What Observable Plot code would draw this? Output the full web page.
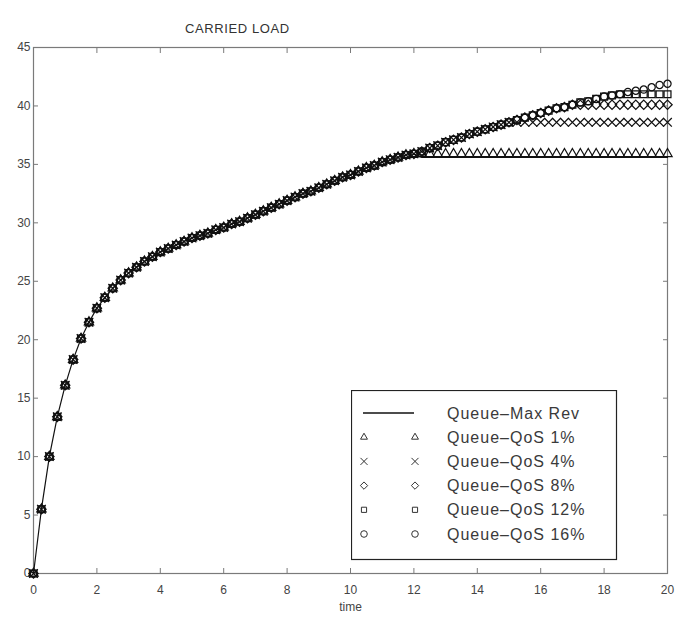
<!DOCTYPE html>
<html><head><meta charset="utf-8">
<script src="https://cdn.jsdelivr.net/npm/d3@7"></script>
<script src="https://cdn.jsdelivr.net/npm/@observablehq/plot@0.6"></script>
<style>
body{margin:0;background:#fff;font-family:"Liberation Sans",Arial,sans-serif;}
#wrap{position:relative;width:693px;height:633px;}
#title{position:absolute;left:185px;top:22px;font-size:13px;line-height:13px;letter-spacing:0.6px;color:#333;}
#legend{position:absolute;left:351px;top:390px;}
</style></head><body><div id="wrap"><div id="title">CARRIED LOAD</div><div id="legend"></div></div>
<script>
const time = [0,0.25,0.5,0.75,1,1.25,1.5,1.75,2,2.25,2.5,2.75,3,3.25,3.5,3.75,4,4.25,4.5,4.75,5,5.25,5.5,5.75,6,6.25,6.5,6.75,7,7.25,7.5,7.75,8,8.25,8.5,8.75,9,9.25,9.5,9.75,10,10.25,10.5,10.75,11,11.25,11.5,11.75,12,12.25,12.5,12.75,13,13.25,13.5,13.75,14,14.25,14.5,14.75,15,15.25,15.5,15.75,16,16.25,16.5,16.75,17,17.25,17.5,17.75,18,18.25,18.5,18.75,19,19.25,19.5,19.75,20];
// shared part of all curves, t = 0 .. 12
const sharedStart = [0,5.5,10.0,13.4,16.1,18.3,20.1,21.5,22.7,23.6,24.4,25.1,25.7,26.2,26.7,27.1,27.5,27.8,28.1,28.4,28.7,28.9,29.1,29.4,29.6,29.9,30.1,30.4,30.7,31.0,31.3,31.6,31.9,32.2,32.5,32.7,33.0,33.3,33.6,33.9,34.1,34.4,34.7,34.9,35.2,35.4,35.6,35.8,35.9];
// tails, t = 12.25 .. 20
const tailMaxRev = [35.6,35.6,35.6,35.6,35.6,35.6,35.6,35.6,35.6,35.6,35.6,35.6,35.6,35.6,35.6,35.6,35.6,35.6,35.6,35.6,35.6,35.6,35.6,35.6,35.6,35.6,35.6,35.6,35.6,35.6,35.6,35.6];
const tailQoS1 = [35.9,35.9,35.9,35.9,35.9,35.9,35.9,35.9,35.9,35.9,35.9,35.9,35.9,35.9,35.9,35.9,35.9,35.9,35.9,35.9,35.9,35.9,35.9,35.9,35.9,35.9,35.9,35.9,35.9,35.9,35.9,35.9];
const tailQoS4 = [36.1,36.4,36.6,36.9,37.1,37.3,37.6,37.8,38.0,38.2,38.4,38.6,38.6,38.6,38.6,38.6,38.6,38.6,38.6,38.6,38.6,38.6,38.6,38.6,38.6,38.6,38.6,38.6,38.6,38.6,38.6,38.6];
const tailQoS8 = [36.1,36.4,36.6,36.9,37.1,37.3,37.6,37.8,38.0,38.2,38.4,38.6,38.8,39.0,39.2,39.4,39.6,39.8,39.9,40.1,40.1,40.1,40.1,40.1,40.1,40.1,40.1,40.1,40.1,40.1,40.1,40.1];
const tailQoS12 = [36.1,36.4,36.6,36.9,37.1,37.3,37.6,37.8,38.0,38.2,38.4,38.6,38.8,39.0,39.2,39.4,39.6,39.8,39.9,40.1,40.3,40.4,40.6,40.8,40.9,41.0,41.0,41.0,41.0,41.0,41.0,41.0];
const tailQoS16 = [36.1,36.4,36.6,36.9,37.1,37.3,37.6,37.8,38.0,38.2,38.4,38.6,38.8,39.0,39.2,39.4,39.6,39.8,39.9,40.1,40.3,40.4,40.6,40.8,40.9,41.0,41.2,41.3,41.4,41.6,41.8,41.9];
const seriesNames = ["Queue\u2013Max Rev","Queue\u2013QoS 1%","Queue\u2013QoS 4%","Queue\u2013QoS 8%","Queue\u2013QoS 12%","Queue\u2013QoS 16%"];
const seriesSymbols = [null,"triangle2","times","diamond2","square2","circle"];
const xTicks = [0,2,4,6,8,10,12,14,16,18,20];
const yTicks = [0,5,10,15,20,25,30,35,40,45];
const titleText = "CARRIED LOAD";
const xLabel = "time";

const tails = [tailMaxRev,tailQoS1,tailQoS4,tailQoS8,tailQoS12,tailQoS16];
const series = tails.map(tl => sharedStart.concat(tl).map((v,i)=>({t:time[i], v})));
const markerR = [0,4.4,4.0,4.2,4.4,3.6];

const axisColor = "#7a7a7a";
const chart = Plot.plot({
  width:693, height:633, marginTop:47, marginLeft:33, marginRight:26, marginBottom:60,
  style:{fontFamily:"Liberation Sans, Arial, sans-serif", fontSize:"12px", color:"#444", background:"transparent"},
  x:{domain:[0,20]},
  y:{domain:[0,45]},
  marks:[
    Plot.frame({stroke:axisColor, strokeWidth:1.2}),
    Plot.axisX({ticks:xTicks, tickSize:-5, tickPadding:17, stroke:axisColor, label:xLabel, labelAnchor:"center", labelArrow:"none", labelOffset:37}),
    Plot.axisX({anchor:"top", ticks:xTicks, tickSize:-5, tickFormat:()=>"", stroke:axisColor, label:null}),
    Plot.axisY({ticks:yTicks, tickSize:-5, tickPadding:8, stroke:axisColor, label:null}),
    Plot.axisY({anchor:"right", ticks:yTicks, tickSize:-5, tickFormat:()=>"", stroke:axisColor, label:null}),
    Plot.line(series[0], {x:"t", y:"v", stroke:"#111", strokeWidth:1.2}),
    ...[1,2,3,4,5].map(k => Plot.dot(series[k], {x:"t", y:"v", symbol:()=>seriesSymbols[k], r:markerR[k], stroke:"#111", strokeWidth:1.25, fill:"none"}))
  ]
});
document.getElementById("wrap").prepend(chart);
chart.style.position="absolute"; chart.style.left="0"; chart.style.top="0";

// legend
const lw = 265, lh = 169;
const lg = d3.select("#legend").append("svg").attr("width", lw+2).attr("height", lh+2);
lg.append("rect").attr("x",0.5).attr("y",0.5).attr("width",lw).attr("height",lh).attr("fill","white").attr("stroke","#222").attr("stroke-width",1.2);
const symMap = {triangle2:d3.symbolTriangle2, times:d3.symbolTimes, diamond2:d3.symbolDiamond2, square2:d3.symbolSquare2, circle:d3.symbolCircle};
seriesNames.forEach((name,i)=>{
  const y = 23 + i*24.2;
  if (i===0) {
    lg.append("line").attr("x1",12).attr("x2",63).attr("y1",y).attr("y2",y).attr("stroke","#111").attr("stroke-width",1.5);
  } else {
    const p = d3.symbol(symMap[seriesSymbols[i]], Math.PI*3.3*3.3)();
    [13,64].forEach(x => lg.append("path").attr("d",p).attr("transform",`translate(${x},${y})`).attr("fill","none").attr("stroke","#333").attr("stroke-width",1));
  }
  lg.append("text").attr("x",96).attr("y",y).attr("dy","0.35em").attr("font-size",16).attr("letter-spacing","1px").attr("fill","#3a3a3a").attr("font-family","Liberation Sans, Arial, sans-serif").text(name);
});
</script></body></html>
